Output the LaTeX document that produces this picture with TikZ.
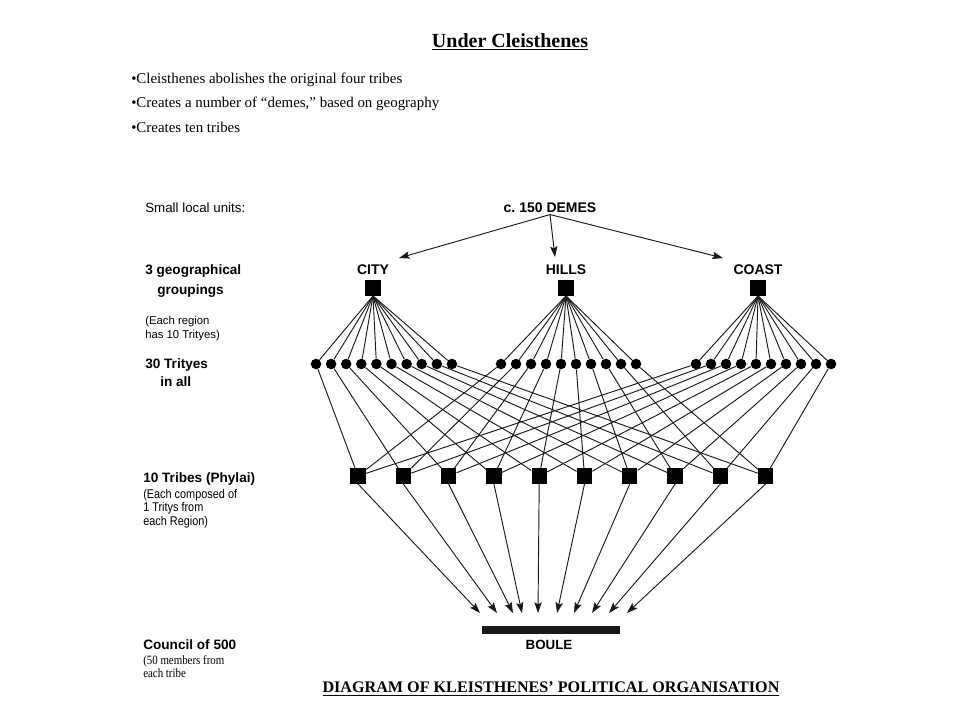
\documentclass[tikz,border=0pt]{standalone}
\usepackage{fontspec}
\setmainfont{Liberation Serif}
\setsansfont{Liberation Sans}
\newfontfamily\narrowsans[FakeStretch=0.86]{Liberation Sans}
\newfontfamily\narrowserif[FakeStretch=0.86]{Liberation Serif}
\usetikzlibrary{arrows.meta}

\begin{document}
\begin{tikzpicture}[x=0.75pt, y=-0.75pt,
    lbl/.style={anchor=west, inner sep=0pt, font=\sffamily\bfseries\fontsize{10.2}{12}\selectfont},
    note/.style={anchor=west, inner sep=0pt, font=\sffamily\fontsize{8.5}{10}\selectfont},
    head/.style={inner sep=1pt, font=\sffamily\bfseries\fontsize{10.5}{12}\selectfont},
    dot/.style={circle, fill=black, inner sep=0pt, minimum size=7.9pt},
    box/.style={rectangle, fill=black, inner sep=0pt, minimum size=11.5pt},
    link/.style={line width=0.7pt, black!90},
    >={Stealth[length=8pt, width=5.5pt, inset=1.5pt]}]
        \fill[white] (0,0) rectangle (960,720);
        \useasboundingbox (0,0) rectangle (960,720);

        \node[font=\bfseries\fontsize{15}{18}\selectfont] (heading) at (510,42) {\underline{Under Cleisthenes}};
        \node[anchor=west, inner sep=0pt, font=\fontsize{11.2}{13}\selectfont] (pt1) at (131,80) {\textbullet Cleisthenes abolishes the original four tribes};
        \node[anchor=west, inner sep=0pt, font=\fontsize{11.2}{13}\selectfont] (pt2) at (131,104) {\textbullet Creates a number of “demes,” based on geography};
        \node[anchor=west, inner sep=0pt, font=\fontsize{11.2}{13}\selectfont] (pt3) at (131,127) {\textbullet Creates ten tribes};

        \node[note, font=\sffamily\fontsize{10}{12}\selectfont] (units) at (145,208) {Small local units:};
        \node[lbl] (geo1) at (145,271) {3 geographical};
        \node[lbl] (geo2) at (157,291) {groupings};
        \node[note] (reg1) at (145,322) {(Each region};
        \node[note] (reg2) at (145,336) {has 10 Trityes)};
        \node[lbl] (trit1) at (145,365) {30 Trityes};
        \node[lbl] (trit2) at (160,382) {in all};
        \node[lbl] (phyl) at (143,479) {10 Tribes (Phylai)};
        \node[note, font=\narrowsans\fontsize{9.5}{11}\selectfont] (comp1) at (143,495) {(Each composed of};
        \node[note, font=\narrowsans\fontsize{9.5}{11}\selectfont] (comp2) at (143,508) {1 Tritys from};
        \node[note, font=\narrowsans\fontsize{9.5}{11}\selectfont] (comp3) at (143,522) {each Region)};
        \node[lbl] (council) at (143,645) {Council of 500};
        \node[note, font=\narrowserif\fontsize{9.5}{11}\selectfont] (memb1) at (143,661) {(50 members from};
        \node[note, font=\narrowserif\fontsize{9.5}{11}\selectfont] (memb2) at (143,673) {each tribe};

        \node[head] (demes) at (550,208) {c.\ 150 DEMES};
        \foreach \r/\t/\x in {city/CITY/373, hills/HILLS/566, coast/COAST/758} {
            \node[head] (\r lab) at (\x,270) {\t};
            \node[box] (\r) at (\x,288) {};
        }
        \coordinate (tocity) at (399,258);
        \coordinate (tohills) at (555,257);
        \coordinate (tocoast) at (723,258);
        \draw[link, ->] (demes.south) -- (tocity);
        \draw[link, ->] (demes.south) -- (tohills);
        \draw[link, ->] (demes.south) -- (tocoast);

        \foreach \i/\bx in {1/480, 2/497, 3/513, 4/522, 5/538, 6/557, 7/574, 8/592, 9/609, 10/627} {
            \node[dot] (c\i) at ({316+15.1*(\i-1)},364) {};
            \node[dot] (h\i) at ({501+15*(\i-1)},364) {};
            \node[dot] (k\i) at ({696+15*(\i-1)},364) {};
            \node[box] (t\i) at ({358+45.3*(\i-1)},476) {};
            \coordinate (b\i) at (\bx,613);
            \draw[link] (city.south) -- (c\i);
            \draw[link] (hills.south) -- (h\i);
            \draw[link] (coast.south) -- (k\i);
            \draw[link] (c\i) -- (t\i);
            \draw[link] (h\i) -- (t\i);
            \draw[link] (k\i) -- (t\i);
            \draw[link, ->] (t\i.south) -- (b\i);
        }

        \node[rectangle, fill=black!90, inner sep=0pt, minimum width=104pt, minimum height=6pt] (boule) at (551,630) {};
        \node[head, font=\sffamily\bfseries\fontsize{10}{12}\selectfont] (boulelab) at (549,645) {BOULE};
        \node[font=\bfseries\fontsize{12.1}{14}\selectfont] (title) at (551,689) {\underline{DIAGRAM OF KLEISTHENES' POLITICAL ORGANISATION}};
    \end{tikzpicture}
\end{document}
